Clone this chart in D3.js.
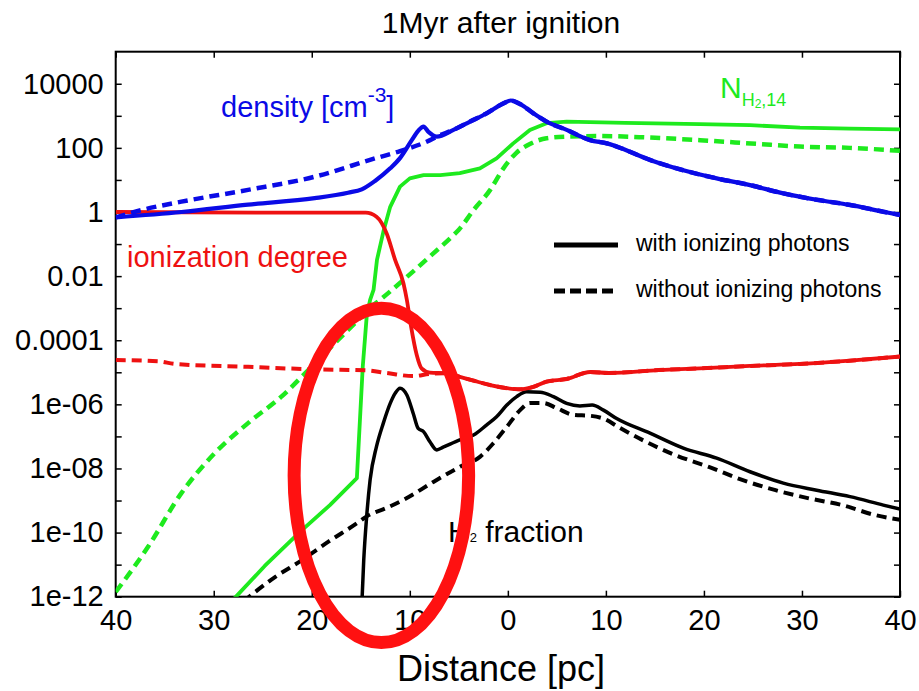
<!DOCTYPE html>
<html>
<head>
<meta charset="utf-8">
<script src="https://cdn.jsdelivr.net/npm/d3@7"></script>
<style>
  body { margin: 0; background: #fff; }
  svg text { font-family: "Liberation Sans", Arial, Helvetica, sans-serif; }
</style>
</head>
<body>
<svg id="chart" width="919" height="691"></svg>
<script>
// Profiles along the cut, [distance in pc, value]; negative distance = left of the cloud centre.
const densityWith = [[-40.0,0.68],[-33.3,1.0],[-26.5,1.7],[-19.7,2.7],[-16.3,4.0],[-14.9,5.1],[-13.55,9.3],[-12.0,23],[-11.0,48],[-9.8,174],[-9.15,340],[-8.6,460],[-8.1,316],[-7.25,224],[-5.55,363],[-3.85,660],[-2.15,1200],[-0.45,2450],[0.3,3000],[1.4,2190],[2.6,1200],[3.95,660],[6.0,363],[8.4,174],[10.1,138],[11.1,110],[14.5,42],[17.9,20],[21.3,11.2],[24.7,6.9],[28.1,3.8],[31.5,2.4],[34.9,1.66],[38.3,1.02],[40.0,0.81]];
const densityWithout = [[-40.0,0.68],[-37.35,1.15],[-33.3,2.1],[-26.5,4.9],[-19.7,12.6],[-13.55,47],[-11.0,79],[-7.75,186],[-7.25,224],[-5.55,363],[-3.85,660],[-2.15,1200],[-0.45,2450],[0.3,3000],[1.4,2190],[2.6,1200],[3.95,660],[6.0,363],[8.4,174],[10.1,138],[11.1,110],[14.5,42],[17.9,20],[21.3,11.2],[24.7,6.9],[28.1,3.8],[31.5,2.4],[34.9,1.66],[38.3,1.02],[40.0,0.81]];

const nh2With = [[-28.55,5.8e-13],[-27.8,9.5e-13],[-24.8,9.1e-12],[-21.2,1.05e-10],[-18.15,7.2e-10],[-15.4,5.0e-9],[-14.8,1.5e-5],[-14.4,5.4e-4],[-14.05,1.8e-3],[-13.7,3.7e-3],[-13.35,0.032],[-12.7,0.24],[-12.0,1.45],[-11.0,6.2],[-10.0,11.2],[-8.6,14.1],[-6.9,14.1],[-4.9,16.2],[-2.85,23],[-1.15,47],[0.55,138],[2.25,363],[3.95,590],[6.0,660],[11.95,600],[19.6,550],[24.7,510],[29.8,430],[34.9,400],[40.0,380]];
const nh2Without = [[-40.0,1.4e-12],[-36.7,3.6e-11],[-33.3,1.7e-9],[-29.9,3.0e-8],[-26.5,2.6e-7],[-23.1,1.74e-6],[-20.35,1.17e-5],[-18.0,6.3e-5],[-15.6,3.4e-4],[-13.9,1.12e-3],[-13.05,1.8e-3],[-10.65,7.6e-3],[-7.6,0.051],[-5.55,0.19],[-5.0,0.28],[-3.5,1.15],[-1.8,4.9],[-0.45,23],[0.85,69],[2.25,132],[3.95,200],[6.0,224],[9.4,234],[14.5,209],[19.6,174],[25.6,132],[29.8,110],[34.9,100],[40.0,81]];

const ionWith = [[-40.0,1.0],[-25.0,0.95],[-14.5,0.95],[-13.4,0.71],[-12.35,0.21],[-11.5,0.032],[-10.65,6.0e-3],[-10.3,1.8e-3],[-9.9,3.0e-4],[-9.3,3.5e-5],[-8.8,1.32e-5],[-7.95,9.8e-6],[-6.25,9.3e-6],[-4.9,7.2e-6],[-3.5,5.5e-6],[-1.8,4.0e-6],[-0.1,3.2e-6],[1.25,2.95e-6],[2.6,3.5e-6],[3.95,5.1e-6],[6.0,6.2e-6],[8.4,1.02e-5],[10.3,9.5e-6],[15.4,1.17e-5],[19.6,1.32e-5],[24.7,1.58e-5],[29.8,1.82e-5],[34.9,2.3e-5],[40.0,3.1e-5]];
const ionWithout = [[-40.0,2.4e-5],[-35.65,2.2e-5],[-33.95,1.82e-5],[-26.5,1.48e-5],[-19.7,1.23e-5],[-14.4,1.15e-5],[-12.35,9.5e-6],[-9.65,7.6e-6],[-7.95,8.9e-6],[-6.25,9.3e-6],[-4.9,7.2e-6],[-3.5,5.5e-6],[-1.8,4.0e-6],[-0.1,3.2e-6],[1.25,2.95e-6],[2.6,3.5e-6],[3.95,5.1e-6],[6.0,6.2e-6],[8.4,1.02e-5],[10.3,9.5e-6],[15.4,1.17e-5],[19.6,1.32e-5],[24.7,1.58e-5],[29.8,1.82e-5],[34.9,2.3e-5],[40.0,3.1e-5]];

const h2With = [[-15.0,1e-13],[-14.7,1.38e-11],[-14.4,3.2e-10],[-14.05,4.4e-9],[-13.4,4.8e-8],[-12.7,2.6e-7],[-12.0,1.07e-6],[-11.5,2.2e-6],[-11.0,3.2e-6],[-10.3,1.95e-6],[-9.65,5.2e-7],[-9.15,1.78e-7],[-8.6,1.41e-7],[-7.95,6.8e-8],[-7.25,3.8e-8],[-6.6,4.6e-8],[-4.9,7.8e-8],[-3.5,1.1e-7],[-2.15,2.3e-7],[-1.15,4.1e-7],[-0.1,9.5e-7],[0.9,1.74e-6],[1.9,2.45e-6],[3.3,2.4e-6],[4.65,1.74e-6],[6.0,1.07e-6],[7.35,8.9e-7],[8.6,9.5e-7],[9.75,6.6e-7],[11.1,3.6e-7],[14.5,1.26e-7],[17.9,4.3e-8],[21.3,2.1e-8],[24.7,7.9e-9],[28.1,3.5e-9],[31.5,2.1e-9],[34.9,1.32e-9],[38.3,7.2e-10],[40.0,5.4e-10]];
const h2Without = [[-27.0,7e-13],[-23.75,4.1e-12],[-21.0,1.38e-11],[-18.3,5.2e-11],[-15.4,1.95e-10],[-14.4,3.2e-10],[-12.35,5.9e-10],[-10.3,1.2e-9],[-7.6,3.8e-9],[-4.9,1.12e-8],[-2.85,2.3e-8],[-1.5,6.0e-8],[-0.1,2.0e-7],[1.25,6.6e-7],[2.25,1.1e-6],[3.6,1.1e-6],[5.0,7.6e-7],[6.7,4.7e-7],[8.4,4.4e-7],[9.75,3.6e-7],[11.45,1.82e-7],[13.7,7.8e-8],[17.1,2.6e-8],[20.5,1.12e-8],[23.9,4.4e-9],[27.3,2.1e-9],[30.7,1.17e-9],[34.1,7.2e-10],[37.5,3.5e-10],[40.0,2.5e-10]];

// Axis ticks and their printed labels
const xTicks = [-40, -30, -20, -10, 0, 10, 20, 30, 40];
const xTickLabels = ["40", "30", "20", "10", "0", "10", "20", "30", "40"];
const yLabelValues = [1e-12, 1e-10, 1e-8, 1e-6, 1e-4, 1e-2, 1, 1e2, 1e4];
const yLabelText = ["1e-12", "1e-10", "1e-08", "1e-06", "0.0001", "0.01", "1", "100", "10000"];

// Highlighted region (distance range and value range enclosed by the ring)
const ringBox = { d0: -21.8, d1: -4.0, v0: 3.7e-14, v1: 1e-3 };

const W = 919, H = 691;
const plotL = 115.7, plotR = 900, plotT = 51.7, plotB = 596.7;

const svg = d3.select("#chart");
svg.append("rect").attr("width", W).attr("height", H).attr("fill", "#fff");

const x = d3.scaleLinear().domain([-40, 40]).range([plotL, plotR]);
const y = d3.scaleLog().domain([1e-12, 1e5]).range([plotB, plotT]);

svg.append("defs").append("clipPath").attr("id", "plot-clip")
  .append("rect").attr("x", plotL).attr("y", plotT)
  .attr("width", plotR - plotL).attr("height", plotB - plotT);

const COLORS = { blue: "#0a0ae6", green: "#1eea1e", red: "#ee1111", black: "#000" };

// Axes: ticks point inward on all four sides
const fontAxis = 29;
const yTickValues = d3.range(-12, 5).map(e => Math.pow(10, e));
const yLabelOf = v => {
  const i = yLabelValues.findIndex(t => Math.abs(Math.log10(t) - Math.log10(v)) < 1e-6);
  return i >= 0 ? yLabelText[i] : "";
};

const gx = svg.append("g").attr("transform", `translate(0,${plotB})`)
  .call(d3.axisBottom(x).tickValues(xTicks).tickFormat((d, i) => xTickLabels[i])
    .tickSizeInner(-6).tickSizeOuter(0).tickPadding(13));
const gxTop = svg.append("g").attr("transform", `translate(0,${plotT})`)
  .call(d3.axisTop(x).tickValues(xTicks).tickFormat("").tickSizeInner(-6).tickSizeOuter(0));
const gy = svg.append("g").attr("transform", `translate(${plotL},0)`)
  .call(d3.axisLeft(y).tickValues(yTickValues).tickFormat(yLabelOf)
    .tickSizeInner(-6).tickSizeOuter(0).tickPadding(12));
const gyRight = svg.append("g").attr("transform", `translate(${plotR},0)`)
  .call(d3.axisRight(y).tickValues(yTickValues).tickFormat("").tickSizeInner(-6).tickSizeOuter(0));

[gx, gxTop, gy, gyRight].forEach(g => {
  g.select(".domain").remove();
  g.selectAll(".tick line").attr("stroke", "#000").attr("stroke-width", 1.5);
  g.selectAll(".tick text").attr("font-size", fontAxis).attr("fill", "#000")
    .attr("font-family", "Liberation Sans, Arial, sans-serif");
});

svg.append("rect").attr("x", plotL).attr("y", plotT)
  .attr("width", plotR - plotL).attr("height", plotB - plotT)
  .attr("fill", "none").attr("stroke", "#000").attr("stroke-width", 2);

// Curves
const line = d3.line().x(d => x(d[0])).y(d => y(d[1])).curve(d3.curveMonotoneX);
const lineLinear = d3.line().x(d => x(d[0])).y(d => y(d[1]));
const plot = svg.append("g").attr("clip-path", "url(#plot-clip)");
const DASH = "10,6";
const series = [
  { data: h2Without, color: COLORS.black, dash: DASH, w: 4 },
  { data: h2With, color: COLORS.black, dash: null, w: 3.5 },
  { data: nh2Without, color: COLORS.green, dash: DASH, w: 4.5 },
  { data: nh2With, color: COLORS.green, dash: null, w: 3.8, linear: true },
  { data: ionWithout, color: COLORS.red, dash: DASH, w: 4 },
  { data: ionWith, color: COLORS.red, dash: null, w: 3.8 },
  { data: densityWithout, color: COLORS.blue, dash: DASH, w: 4.5 },
  { data: densityWith, color: COLORS.blue, dash: null, w: 4.2 }
];
series.forEach(s => {
  plot.append("path").datum(s.data)
    .attr("d", s.linear ? lineLinear : line)
    .attr("fill", "none").attr("stroke", s.color).attr("stroke-width", s.w)
    .attr("stroke-linejoin", "round")
    .attr("stroke-dasharray", s.dash);
});

// Title and axis label
svg.append("text").attr("x", 501).attr("y", 33).attr("text-anchor", "middle")
  .attr("font-size", 30).text("1Myr after ignition");
svg.append("text").attr("x", 501).attr("y", 681).attr("text-anchor", "middle")
  .attr("font-size", 36).text("Distance [pc]");

// Curve labels
const dens = svg.append("text").attr("x", 221).attr("y", 117).attr("font-size", 29).attr("fill", COLORS.blue);
dens.append("tspan").text("density [cm");
dens.append("tspan").attr("dy", -15).attr("font-size", 21).text("-3");
dens.append("tspan").attr("dy", 15).text("]");

svg.append("text").attr("x", 127).attr("y", 267).attr("font-size", 29)
  .attr("fill", COLORS.red).text("ionization degree");

const nl = svg.append("text").attr("x", 720).attr("y", 98).attr("font-size", 30).attr("fill", COLORS.green);
nl.append("tspan").text("N");
nl.append("tspan").attr("dy", 8).attr("font-size", 18).text("H");
nl.append("tspan").attr("dy", 2).attr("font-size", 12).text("2");
nl.append("tspan").attr("dy", -2).attr("font-size", 18).text(",14");

const hl = svg.append("text").attr("x", 448).attr("y", 542).attr("font-size", 30).attr("fill", "#000");
hl.append("tspan").text("H");
hl.append("tspan").attr("font-size", 13).text("2");
hl.append("tspan").text(" fraction");

// Legend
const legend = svg.append("g");
const legendItems = [
  { label: "with ionizing photons", dash: null, y: 245 },
  { label: "without ionizing photons", dash: "11,5", y: 291 }
];
legendItems.forEach(it => {
  legend.append("line").attr("x1", 554).attr("x2", 618).attr("y1", it.y).attr("y2", it.y)
    .attr("stroke", "#000").attr("stroke-width", 5).attr("stroke-dasharray", it.dash);
  legend.append("text").attr("x", 636).attr("y", it.y + 6).attr("font-size", 23).text(it.label);
});

// Ring around the region of interest
const rx0 = x(ringBox.d0), rx1 = x(ringBox.d1), ry0 = y(ringBox.v0), ry1 = y(ringBox.v1);
svg.append("ellipse")
  .attr("cx", (rx0 + rx1) / 2).attr("cy", (ry0 + ry1) / 2)
  .attr("rx", (rx1 - rx0) / 2).attr("ry", (ry0 - ry1) / 2)
  .attr("fill", "none").attr("stroke", "#ff1111").attr("stroke-width", 13);
</script>
</body>
</html>
